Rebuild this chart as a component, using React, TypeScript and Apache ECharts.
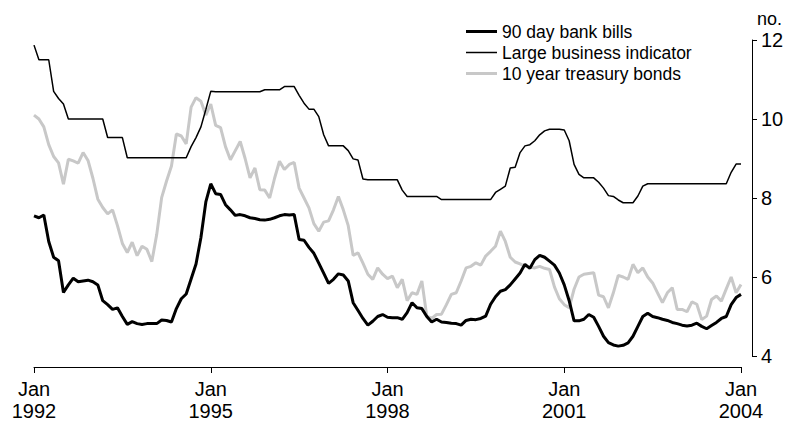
import React, { useEffect, useRef } from "react";
import * as echarts from "echarts";

const MONTH_NAMES = ["Jan","Feb","Mar","Apr","May","Jun","Jul","Aug","Sep","Oct","Nov","Dec"];
const START_YEAR = 1992;
const MONTH_COUNT = 145; // Jan 1992 .. Jan 2004
const categories: string[] = [];
for (let i = 0; i < MONTH_COUNT; i++) {
  categories.push(MONTH_NAMES[i % 12] + " " + (START_YEAR + Math.floor(i / 12)));
}

const seriesNames = ["90 day bank bills", "Large business indicator", "10 year treasury bonds"];

const bankBills = [
  7.55,7.50,7.57,6.90,6.50,6.41,5.61,5.80,5.97,5.88,
  5.90,5.92,5.88,5.80,5.40,5.30,5.18,5.22,5.00,4.80,
  4.87,4.82,4.80,4.82,4.82,4.82,4.91,4.90,4.86,5.20,
  5.45,5.57,5.95,6.33,7.00,7.90,8.36,8.11,8.09,7.83,
  7.70,7.56,7.58,7.55,7.50,7.48,7.45,7.44,7.46,7.50,
  7.55,7.58,7.57,7.58,6.95,6.93,6.75,6.60,6.35,6.10,
  5.84,5.94,6.08,6.05,5.90,5.35,5.15,4.95,4.78,4.88,
  5.00,5.05,4.98,4.97,4.97,4.93,5.10,5.35,5.22,5.20,
  5.00,4.86,4.93,4.86,4.85,4.83,4.82,4.78,4.90,4.93,
  4.92,4.95,5.01,5.31,5.50,5.64,5.68,5.80,5.95,6.10,
  6.32,6.22,6.44,6.55,6.50,6.40,6.30,6.10,5.80,5.40,
  4.89,4.89,4.93,5.05,4.98,4.75,4.50,4.34,4.28,4.25,
  4.27,4.33,4.50,4.75,5.00,5.08,5.00,4.97,4.93,4.90,
  4.85,4.82,4.78,4.76,4.78,4.83,4.75,4.69,4.77,4.85,
  4.95,5.00,5.30,5.48,5.56,
];

const largeBusiness = [
  11.87,11.50,11.50,11.50,10.70,10.52,10.38,10.00,10.00,10.00,
  10.00,10.00,10.00,10.00,10.00,9.53,9.53,9.53,9.53,9.02,
  9.02,9.02,9.02,9.02,9.02,9.02,9.02,9.02,9.02,9.02,
  9.02,9.02,9.30,9.53,9.80,10.24,10.70,10.69,10.69,10.69,
  10.69,10.69,10.69,10.69,10.69,10.69,10.69,10.74,10.74,10.74,
  10.74,10.82,10.82,10.82,10.60,10.40,10.25,10.25,10.06,9.60,
  9.32,9.32,9.32,9.32,9.20,8.99,8.96,8.48,8.46,8.46,
  8.46,8.46,8.46,8.46,8.46,8.20,8.04,8.04,8.04,8.04,
  8.04,8.04,8.04,7.96,7.96,7.96,7.96,7.96,7.96,7.96,
  7.96,7.96,7.96,7.96,8.14,8.22,8.30,8.76,8.78,9.15,
  9.32,9.35,9.45,9.60,9.70,9.74,9.74,9.74,9.72,9.45,
  8.85,8.60,8.51,8.51,8.51,8.40,8.25,8.06,8.04,7.95,
  7.88,7.88,7.88,8.05,8.30,8.36,8.36,8.36,8.36,8.36,
  8.36,8.36,8.36,8.36,8.36,8.36,8.36,8.36,8.36,8.36,
  8.36,8.36,8.65,8.86,8.86,
];

const treasuryBonds = [
  10.10,10.00,9.80,9.35,9.05,8.89,8.35,8.98,8.94,8.88,
  9.15,8.95,8.50,7.97,7.76,7.60,7.70,7.30,6.85,6.62,
  6.88,6.54,6.78,6.70,6.39,7.08,8.01,8.43,8.81,9.62,
  9.57,9.37,10.30,10.54,10.45,10.10,10.38,9.84,9.78,9.30,
  8.97,9.20,9.43,9.00,8.51,8.76,8.21,8.20,8.00,8.50,
  8.93,8.72,8.85,8.90,8.25,8.00,7.75,7.35,7.16,7.39,
  7.42,7.70,8.04,7.70,7.30,6.55,6.61,6.35,6.07,5.94,
  6.23,6.07,5.96,6.02,5.73,5.94,5.40,5.60,5.56,5.90,
  5.01,4.95,5.05,5.06,5.30,5.56,5.60,5.90,6.23,6.27,
  6.36,6.30,6.53,6.65,6.78,7.16,6.90,6.50,6.38,6.33,
  6.27,6.25,6.23,6.27,6.22,6.19,5.75,5.45,5.30,5.22,
  5.69,6.00,6.07,6.09,6.11,5.54,5.50,5.22,5.60,6.04,
  6.00,5.94,6.32,6.11,6.23,6.00,5.85,5.60,5.35,5.60,
  5.73,5.18,5.18,5.12,5.37,5.31,4.92,5.01,5.43,5.52,
  5.39,5.70,6.00,5.60,5.81,
];

const yTicks = { min: 4, max: 12, interval: 2 };
const FONT = "'Liberation Sans', Arial, sans-serif";

const THICK_ICON = "path://M0 0H31V3H0Z";
const THIN_ICON = "path://M0 0H31V1.5H0Z";

export default function App() {
  const ref = useRef<HTMLDivElement>(null);
  useEffect(() => {
    if (!ref.current) return;
    const chart = echarts.init(ref.current, undefined, { renderer: "svg" });
    chart.setOption({
      animation: false,
      backgroundColor: "#ffffff",
      textStyle: { fontFamily: FONT, color: "#000" },
      grid: { left: 34, right: 48, top: 40, bottom: 65, containLabel: false, outerBoundsMode: "none" },
      legend: {
        data: [
          { name: seriesNames[0], icon: THICK_ICON },
          { name: seriesNames[1], icon: THIN_ICON },
          { name: seriesNames[2], icon: THICK_ICON },
        ],
        orient: "vertical",
        left: 466,
        top: 21,
        padding: 0,
        itemWidth: 31,
        itemHeight: 12,
        itemGap: 0,
        symbolKeepAspect: true,
        textStyle: { fontFamily: FONT, fontSize: 17.5, color: "#000", lineHeight: 21 },
        selectedMode: false,
      },
      xAxis: {
        type: "category",
        data: categories,
        boundaryGap: false,
        offset: 11,
        axisLine: { show: true, lineStyle: { color: "#000", width: 1 } },
        axisTick: { show: true, interval: 35, length: 6, lineStyle: { color: "#000", width: 1 } },
        axisLabel: {
          interval: 35,
          margin: 11,
          fontFamily: FONT,
          fontSize: 20,
          lineHeight: 22,
          color: "#000",
          formatter: (v: string) => v.replace(" ", "\n"),
        },
        splitLine: { show: false },
      },
      yAxis: {
        type: "value",
        position: "right",
        offset: 11,
        min: yTicks.min,
        max: yTicks.max,
        interval: yTicks.interval,
        name: "no.",
        nameLocation: "end",
        nameGap: 12,
        nameTextStyle: { fontFamily: FONT, fontSize: 18, color: "#000", align: "left", padding: [0, 0, 0, 5] },
        axisLine: { show: true, lineStyle: { color: "#000", width: 1 } },
        axisTick: { show: true, length: 5, lineStyle: { color: "#000", width: 1 } },
        axisLabel: { margin: 9, fontFamily: FONT, fontSize: 20, color: "#000" },
        splitLine: { show: false },
      },
      series: [
        {
          name: seriesNames[2],
          type: "line",
          data: treasuryBonds,
          symbol: "none",
          lineStyle: { color: "#c8c8c8", width: 3 },
          itemStyle: { color: "#c8c8c8" },
          z: 2,
        },
        {
          name: seriesNames[1],
          type: "line",
          data: largeBusiness,
          symbol: "none",
          lineStyle: { color: "#000", width: 1.5 },
          itemStyle: { color: "#000" },
          z: 3,
        },
        {
          name: seriesNames[0],
          type: "line",
          data: bankBills,
          symbol: "none",
          lineStyle: { color: "#000", width: 3 },
          itemStyle: { color: "#000" },
          z: 4,
        },
      ],
    });
    return () => chart.dispose();
  }, []);
  return (
    <div
      ref={ref}
      style={{ position: "fixed", left: 0, top: 0, width: 789, height: 421, background: "#fff" }}
    />
  );
}
